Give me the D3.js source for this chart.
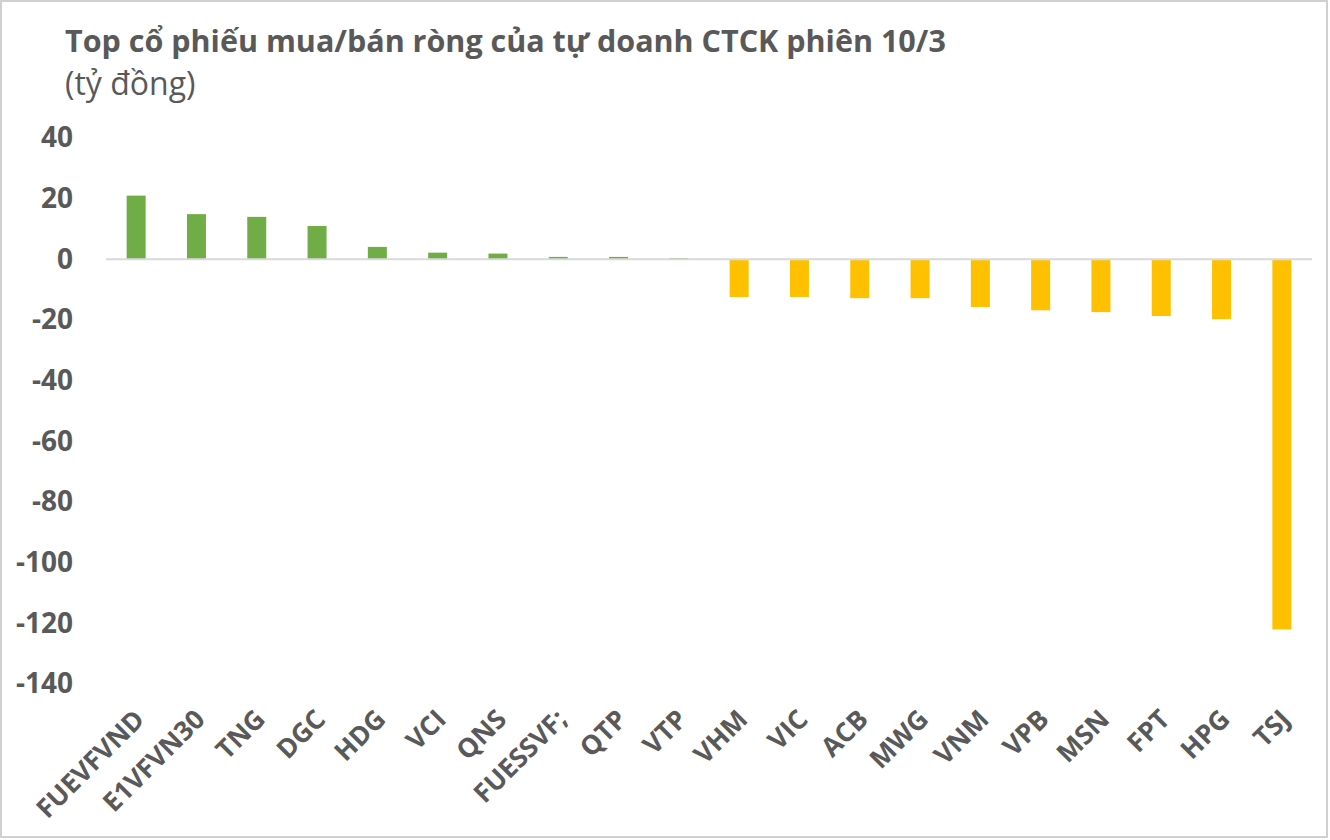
<!DOCTYPE html>
<html>
<head>
<meta charset="utf-8">
<script src="https://cdn.jsdelivr.net/npm/d3@7"></script>
<style>
  body { margin: 0; background: #fff; }
  text { font-family: "Open Sans", "Noto Sans", sans-serif; fill: #595959; }
</style>
</head>
<body>
<div id="chart"></div>
<script>
// data (tỷ đồng)
const categories = ['FUEVFVND', 'E1VFVN30', 'TNG', 'DGC', 'HDG', 'VCI', 'QNS', 'FUESSVF;', 'QTP', 'VTP',
                    'VHM', 'VIC', 'ACB', 'MWG', 'VNM', 'VPB', 'MSN', 'FPT', 'HPG', 'TSJ'];
const values = [21.0, 14.9, 14.0, 11.0, 4.1, 2.2, 1.9, 0.8, 0.8, 0.4,
                -12.4, -12.4, -12.8, -12.8, -15.7, -16.8, -17.4, -18.7, -19.7, -122];
const yTicks = [40, 20, 0, -20, -40, -60, -80, -100, -120, -140];

const width = 1330, height = 840;
const margin = [138, 156, 106, 18]; // top, bottom, left, right
const data = categories.map((c, i) => [c, values[i]]);

const svg = d3.select('#chart')
    .append('svg')
    .attr('width', width)
    .attr('height', height);

// frame
svg.append('rect')
    .attr('x', 1).attr('y', 1)
    .attr('width', width - 4).attr('height', height - 4)
    .attr('fill', 'none')
    .attr('stroke', '#d0d0d0')
    .attr('stroke-width', 2);

// title
svg.append('text')
    .attr('x', 65).attr('y', 52)
    .style('font-size', '30.5px')
    .style('font-weight', 'bold')
    .text('Top cổ phiếu mua/bán ròng của tự doanh CTCK phiên 10/3');
svg.append('text')
    .attr('x', 65).attr('y', 95)
    .style('font-size', '32px')
    .text('(tỷ đồng)');

// scales
const scaleX = d3.scaleBand(categories, [margin[2], width - margin[3]])
    .paddingInner(0.685)
    .paddingOuter(0.3425);
const scaleY = d3.scaleLinear([-140, 40], [height - margin[1], margin[0]]);

// y axis, labels only
const axisY = svg.append('g')
    .attr('transform', `translate(73, 0)`)
    .call(d3.axisLeft(scaleY).tickValues(yTicks).tickFormat(d => String(d)).tickSize(0).tickPadding(0));
axisY.select('.domain').remove();
axisY.selectAll('text')
    .style('font-family', '"Open Sans", sans-serif')
    .style('font-size', '28px')
    .style('font-weight', 'bold')
    .attr('fill', '#595959');

// bars
svg.append('g')
    .selectAll('rect.bar')
    .data(data)
    .join('rect')
    .classed('bar', true)
    .attr('x', d => scaleX(d[0]))
    .attr('y', d => scaleY(Math.max(0, d[1])))
    .attr('width', scaleX.bandwidth())
    .attr('height', d => Math.abs(scaleY(d[1]) - scaleY(0)))
    .attr('fill', d => d[1] >= 0 ? '#70AD47' : '#FFC000');

// zero line
svg.append('line')
    .attr('x1', margin[2]).attr('x2', width - margin[3])
    .attr('y1', scaleY(0)).attr('y2', scaleY(0))
    .attr('stroke', '#d9d9d9')
    .attr('stroke-width', 2);

// x labels, rotated
svg.append('g')
    .selectAll('text')
    .data(categories)
    .join('text')
    .attr('transform', d => `translate(${scaleX(d) + scaleX.bandwidth() / 2 + 10}, 721)rotate(-45)`)
    .style('text-anchor', 'end')
    .style('font-size', '26.5px')
    .style('font-weight', 'bold')
    .text(d => d);
</script>
</body>
</html>
